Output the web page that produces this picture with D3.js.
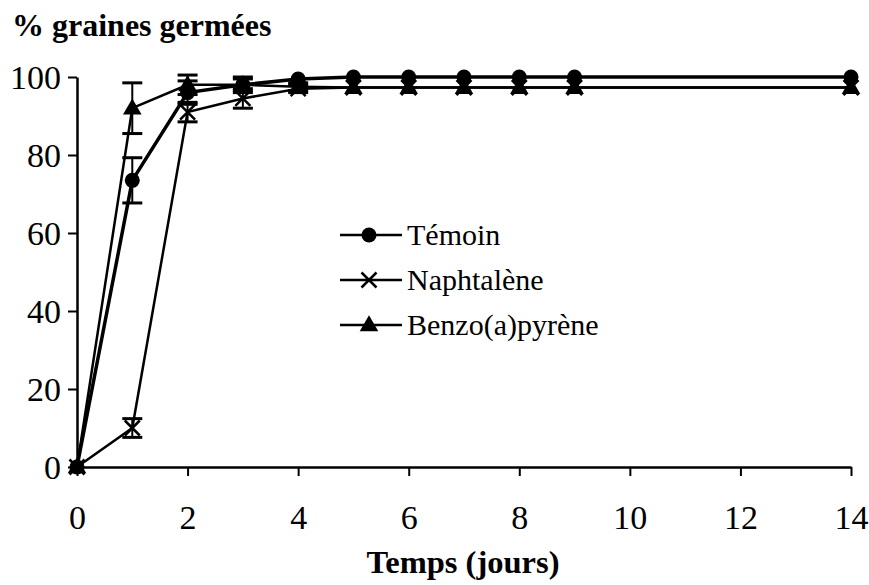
<!DOCTYPE html>
<html>
<head>
<meta charset="utf-8">
<script src="https://cdn.jsdelivr.net/npm/d3@7"></script>
<style>
  body { margin: 0; background: #fff; }
</style>
</head>
<body id="body">
<svg id="chart" width="869" height="585"></svg>
<script>
// days of measurement
var days = [0, 1, 2, 3, 4, 5, 6, 7, 8, 9, 14];

// % germinated seeds per series, with error bars
var temoin      = [0, 73.5, 96, 98, 99.5, 100, 100, 100, 100, 100, 100];
var temoinErr   = [0, 5.8, 3, 2, 0.5, 0, 0, 0, 0, 0, 0];
var naphtalene    = [0, 10, 91, 94.5, 97, 97.3, 97.3, 97.3, 97.3, 97.3, 97.3];
var naphtaleneErr = [0, 2.4, 2.5, 2.5, 1, 0.5, 0.5, 0.5, 0.5, 0.5, 0.5];
var benzo    = [0, 92, 98, 98, 97.5, 97.3, 97.3, 97.3, 97.3, 97.3, 97.3];
var benzoErr = [0, 6.5, 2.5, 1.5, 1, 0.5, 0.5, 0.5, 0.5, 0.5, 0.5];

var seriesNames = ["Témoin", "Naphtalène", "Benzo(a)pyrène"];
var xTicks = [0, 2, 4, 6, 8, 10, 12, 14];
var yTicks = [0, 20, 40, 60, 80, 100];

var FONT = "'Liberation Serif', 'Times New Roman', serif";

var svg = d3.select("#chart");

var x = d3.scaleLinear().domain([0, 14]).range([77, 851]);
var y = d3.scaleLinear().domain([0, 100]).range([467, 77]);

// axes
var xAxis = svg.append("g")
    .attr("transform", "translate(0," + y(0) + ")")
    .call(d3.axisBottom(x).tickValues(xTicks).tickSize(9).tickSizeOuter(0).tickPadding(29));
var yAxis = svg.append("g")
    .attr("transform", "translate(" + x(0) + ",0)")
    .call(d3.axisLeft(y).tickValues(yTicks).tickSize(9).tickSizeOuter(0).tickPadding(7));

[xAxis, yAxis].forEach(function(a) {
  a.attr("font-family", null).attr("font-size", null);
  a.select(".domain").attr("stroke", "#000").attr("stroke-width", 2.5);
  a.selectAll(".tick line").attr("stroke", "#000").attr("stroke-width", 2);
  a.selectAll(".tick text")
    .style("font-family", FONT)
    .style("font-size", "34px")
    .attr("fill", "#000");
});
yAxis.selectAll(".tick text").attr("dy", "0.34em");

// build series
var series = [
  { name: seriesNames[0], vals: temoin, err: temoinErr, marker: "circle", width: 3.5 },
  { name: seriesNames[1], vals: naphtalene, err: naphtaleneErr, marker: "cross", width: 2.5 },
  { name: seriesNames[2], vals: benzo, err: benzoErr, marker: "triangle", width: 2.5 }
];

var line = d3.line()
    .x(function(d) { return x(d.day); })
    .y(function(d) { return y(d.v); });

function points(s) {
  return days.map(function(dd, i) { return { day: dd, v: s.vals[i], e: s.err[i] }; });
}

function drawMarker(g, type, cx, cy) {
  if (type == "circle") {
    g.append("circle").attr("cx", cx).attr("cy", cy).attr("r", 7.5).attr("fill", "#000");
  } else if (type == "triangle") {
    g.append("path")
      .attr("d", d3.symbol().type(d3.symbolTriangle).size(150)())
      .attr("transform", "translate(" + cx + "," + (cy + 1) + ")")
      .attr("fill", "#000");
  } else {
    var r = 7.5;
    g.append("path")
      .attr("d", "M" + (cx - r) + "," + (cy - r) + "L" + (cx + r) + "," + (cy + r) +
                 "M" + (cx - r) + "," + (cy + r) + "L" + (cx + r) + "," + (cy - r))
      .attr("stroke", "#000").attr("stroke-width", 2.5).attr("fill", "none");
  }
}

var plot = svg.append("g");

series.forEach(function(s) {
  var pts = points(s);
  plot.append("path")
    .datum(pts)
    .attr("d", line)
    .attr("fill", "none")
    .attr("stroke", "#000")
    .attr("stroke-width", s.width);

  // error bars
  pts.forEach(function(p) {
    if (p.e <= 0.6) return;
    var cx = x(p.day), cw = 10;
    plot.append("line")
      .attr("x1", cx).attr("x2", cx)
      .attr("y1", y(p.v + p.e)).attr("y2", y(p.v - p.e))
      .attr("stroke", "#000").attr("stroke-width", 2);
    [p.v + p.e, p.v - p.e].forEach(function(v) {
      plot.append("line")
        .attr("x1", cx - cw).attr("x2", cx + cw)
        .attr("y1", y(v)).attr("y2", y(v))
        .attr("stroke", "#000").attr("stroke-width", 3);
    });
  });

  pts.forEach(function(p) { drawMarker(plot, s.marker, x(p.day), y(p.v)); });
});

// legend
var legend = svg.append("g");
series.forEach(function(s, i) {
  var ly = 235 + i * 45;
  legend.append("line")
    .attr("x1", 340).attr("x2", 402).attr("y1", ly).attr("y2", ly)
    .attr("stroke", "#000").attr("stroke-width", 2.5);
  drawMarker(legend, s.marker, 369, ly);
  legend.append("text")
    .attr("x", 407).attr("y", ly + 10)
    .style("font-family", FONT)
    .style("font-size", "30px")
    .text(s.name);
});

// titles
svg.append("text")
  .attr("x", 12).attr("y", 36)
  .style("font-family", FONT)
  .style("font-size", "32px").style("font-weight", "bold")
  .text("% graines germées");

svg.append("text")
  .attr("x", 463).attr("y", 573)
  .attr("text-anchor", "middle")
  .style("font-family", FONT)
  .style("font-size", "32.5px").style("font-weight", "bold")
  .text("Temps (jours)");
</script>
</body>
</html>
